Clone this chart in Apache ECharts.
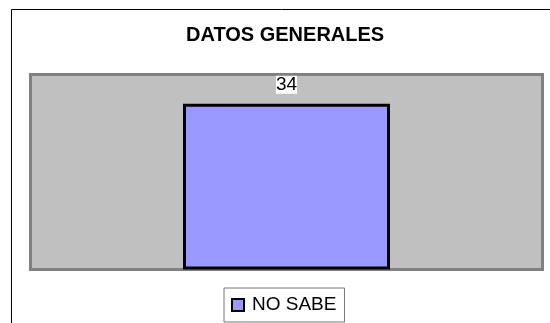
<!DOCTYPE html>
<html>
<head>
<meta charset="utf-8">
<script src="https://cdn.jsdelivr.net/npm/echarts@6/dist/echarts.min.js"></script>
<style>
html,body{margin:0;padding:0;background:#fff;}
#chart{width:550px;height:323px;}
</style>
</head>
<body>
<div id="chart"></div>
<script>
const titleText = 'DATOS GENERALES';
const categories = ['Total'];
const seriesName = 'NO SABE';
const seriesValues = [34];
const axisMax = 40;

const FONT = 'Liberation Sans, Arial, sans-serif';
const chart = echarts.init(document.getElementById('chart'), null, {renderer: 'canvas'});
chart.setOption({
  animation: false,
  backgroundColor: '#ffffff',
  textStyle: {fontFamily: FONT},
  title: {
    text: titleText,
    left: 186,
    top: 25,
    padding: 0,
    textStyle: {fontFamily: FONT, fontSize: 20, fontWeight: 'bold', color: '#000', lineHeight: 20}
  },
  graphic: [{
    type: 'rect',
    z: -10,
    shape: {x: 11.5, y: 9.5, width: 700, height: 500},
    style: {fill: 'none', stroke: '#000', lineWidth: 1}
  }],
  grid: {
    show: true,
    left: 30.5,
    right: 7.5,
    top: 74.5,
    bottom: 53.5,
    backgroundColor: '#C0C0C0',
    borderColor: '#808080',
    borderWidth: 3
  },
  legend: {
    data: [seriesName],
    left: 224,
    top: 288,
    orient: 'horizontal',
    padding: [6, 8, 6, 7],
    borderColor: '#777',
    borderWidth: 1,
    icon: 'rect',
    itemWidth: 12,
    itemHeight: 12,
    itemStyle: {borderColor: '#000', borderWidth: 2},
    textStyle: {fontFamily: FONT, fontSize: 19, color: '#000', lineHeight: 22, padding: [0, 0, 0, 3]}
  },
  xAxis: {
    type: 'category',
    data: categories,
    show: false
  },
  yAxis: {
    type: 'value',
    min: 0,
    max: axisMax,
    show: false
  },
  series: [{
    name: seriesName,
    type: 'bar',
    data: seriesValues,
    barWidth: 207,
    itemStyle: {color: '#9999FF', borderColor: '#000', borderWidth: 3},
    label: {
      show: true,
      position: 'top',
      distance: 10,
      fontFamily: FONT,
      fontSize: 19,
      lineHeight: 18,
      color: '#000',
      backgroundColor: '#fff',
      padding: 0
    }
  }]
});
</script>
</body>
</html>
